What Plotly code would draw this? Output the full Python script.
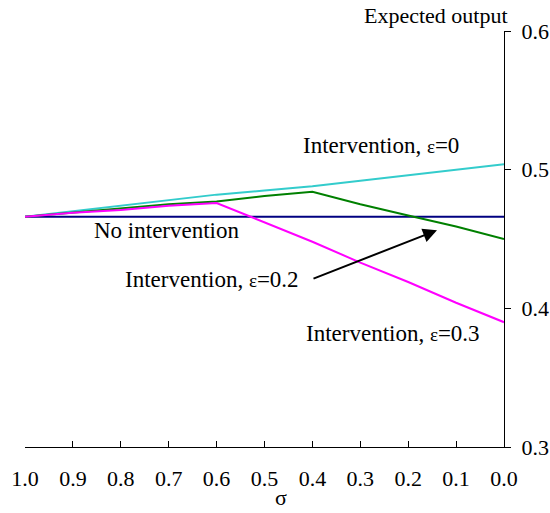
import plotly.graph_objects as go

sigma = [1.0, 0.9, 0.8, 0.7, 0.6, 0.5, 0.4, 0.3, 0.2, 0.1, 0.0]
no_intervention = [0.466, 0.466, 0.466, 0.466, 0.466, 0.466, 0.466, 0.466, 0.466, 0.466, 0.466]
eps_0 = [0.466, 0.470, 0.474, 0.478, 0.482, 0.485, 0.488, 0.492, 0.496, 0.500, 0.504]
eps_02 = [0.466, 0.469, 0.472, 0.475, 0.477, 0.481, 0.484, 0.475, 0.467, 0.459, 0.450]
eps_03 = [0.466, 0.469, 0.471, 0.474, 0.476, 0.462, 0.448, 0.433, 0.419, 0.404, 0.390]

FONT = "Liberation Serif, Times New Roman, serif"
W, H = 550, 513
# plot area in screenshot pixels: x 25..504, y 30.5..447
ML, MT = 25, 30.5
MR, MB = W - 504, H - 447
PW, PH = W - ML - MR, H - MT - MB


def px(x, y):
    return (x - ML) / PW, (H - MB - y) / PH


fig = go.Figure()
for vals, col in [(no_intervention, "#000080"), (eps_0, "#33CCCC"),
                  (eps_02, "#008000"), (eps_03, "#FF00FF")]:
    fig.add_trace(go.Scatter(x=sigma, y=vals, mode="lines",
                             line=dict(color=col, width=2), showlegend=False))

eps = "<span style='font-size:19px'>ε</span>"
texts = [
    ("Intervention, " + eps + "=0", 381, 145, "center", 23),
    ("No intervention", 166, 230, "center", 23),
    ("Intervention, " + eps + "=0.2", 212, 279, "center", 23),
    ("Intervention, " + eps + "=0.3", 393, 333, "center", 23),
    ("Expected output", 510, 15, "right", 22),
    ("σ", 281, 498, "center", 22),
]
for t, x, y, xa, fs in texts:
    xp, yp = px(x, y)
    fig.add_annotation(text=t, x=xp, y=yp, xref="paper", yref="paper",
                       xanchor=xa, yanchor="middle", showarrow=False,
                       font=dict(family=FONT, size=fs, color="black"))

hx, hy = px(437, 230)
tx, ty = px(312, 279)
fig.add_annotation(x=hx, y=hy, ax=tx, ay=ty, xref="x domain", yref="y domain",
                   axref="x domain", ayref="y domain", text="", showarrow=True,
                   arrowhead=2, arrowsize=1.4, arrowwidth=2, arrowcolor="black")

fig.update_layout(
    width=W, height=H,
    margin=dict(l=ML, r=MR, t=MT, b=MB, autoexpand=False),
    plot_bgcolor="white", paper_bgcolor="white",
    font=dict(family=FONT, size=22, color="black"),
    xaxis=dict(range=[1.0, 0.0], tick0=0, dtick=0.1, tickformat=".1f",
               showgrid=False, zeroline=False, showline=True, automargin=False,
               linecolor="black", linewidth=1, ticks="inside", ticklen=6,
               tickcolor="black", ticklabelstandoff=12),
    yaxis=dict(range=[0.3, 0.6], side="right", tick0=0.3, dtick=0.1,
               tickformat=".1f", showgrid=False, zeroline=False,
               showline=True, linecolor="black", linewidth=1, automargin=False,
               ticks="outside", ticklen=6, tickcolor="black",
               ticklabelstandoff=6),
)

fig.write_html("out.html", config={"displayModeBar": False},
               post_script="document.body.style.margin='0';"
                           "document.body.style.overflow='hidden';")
